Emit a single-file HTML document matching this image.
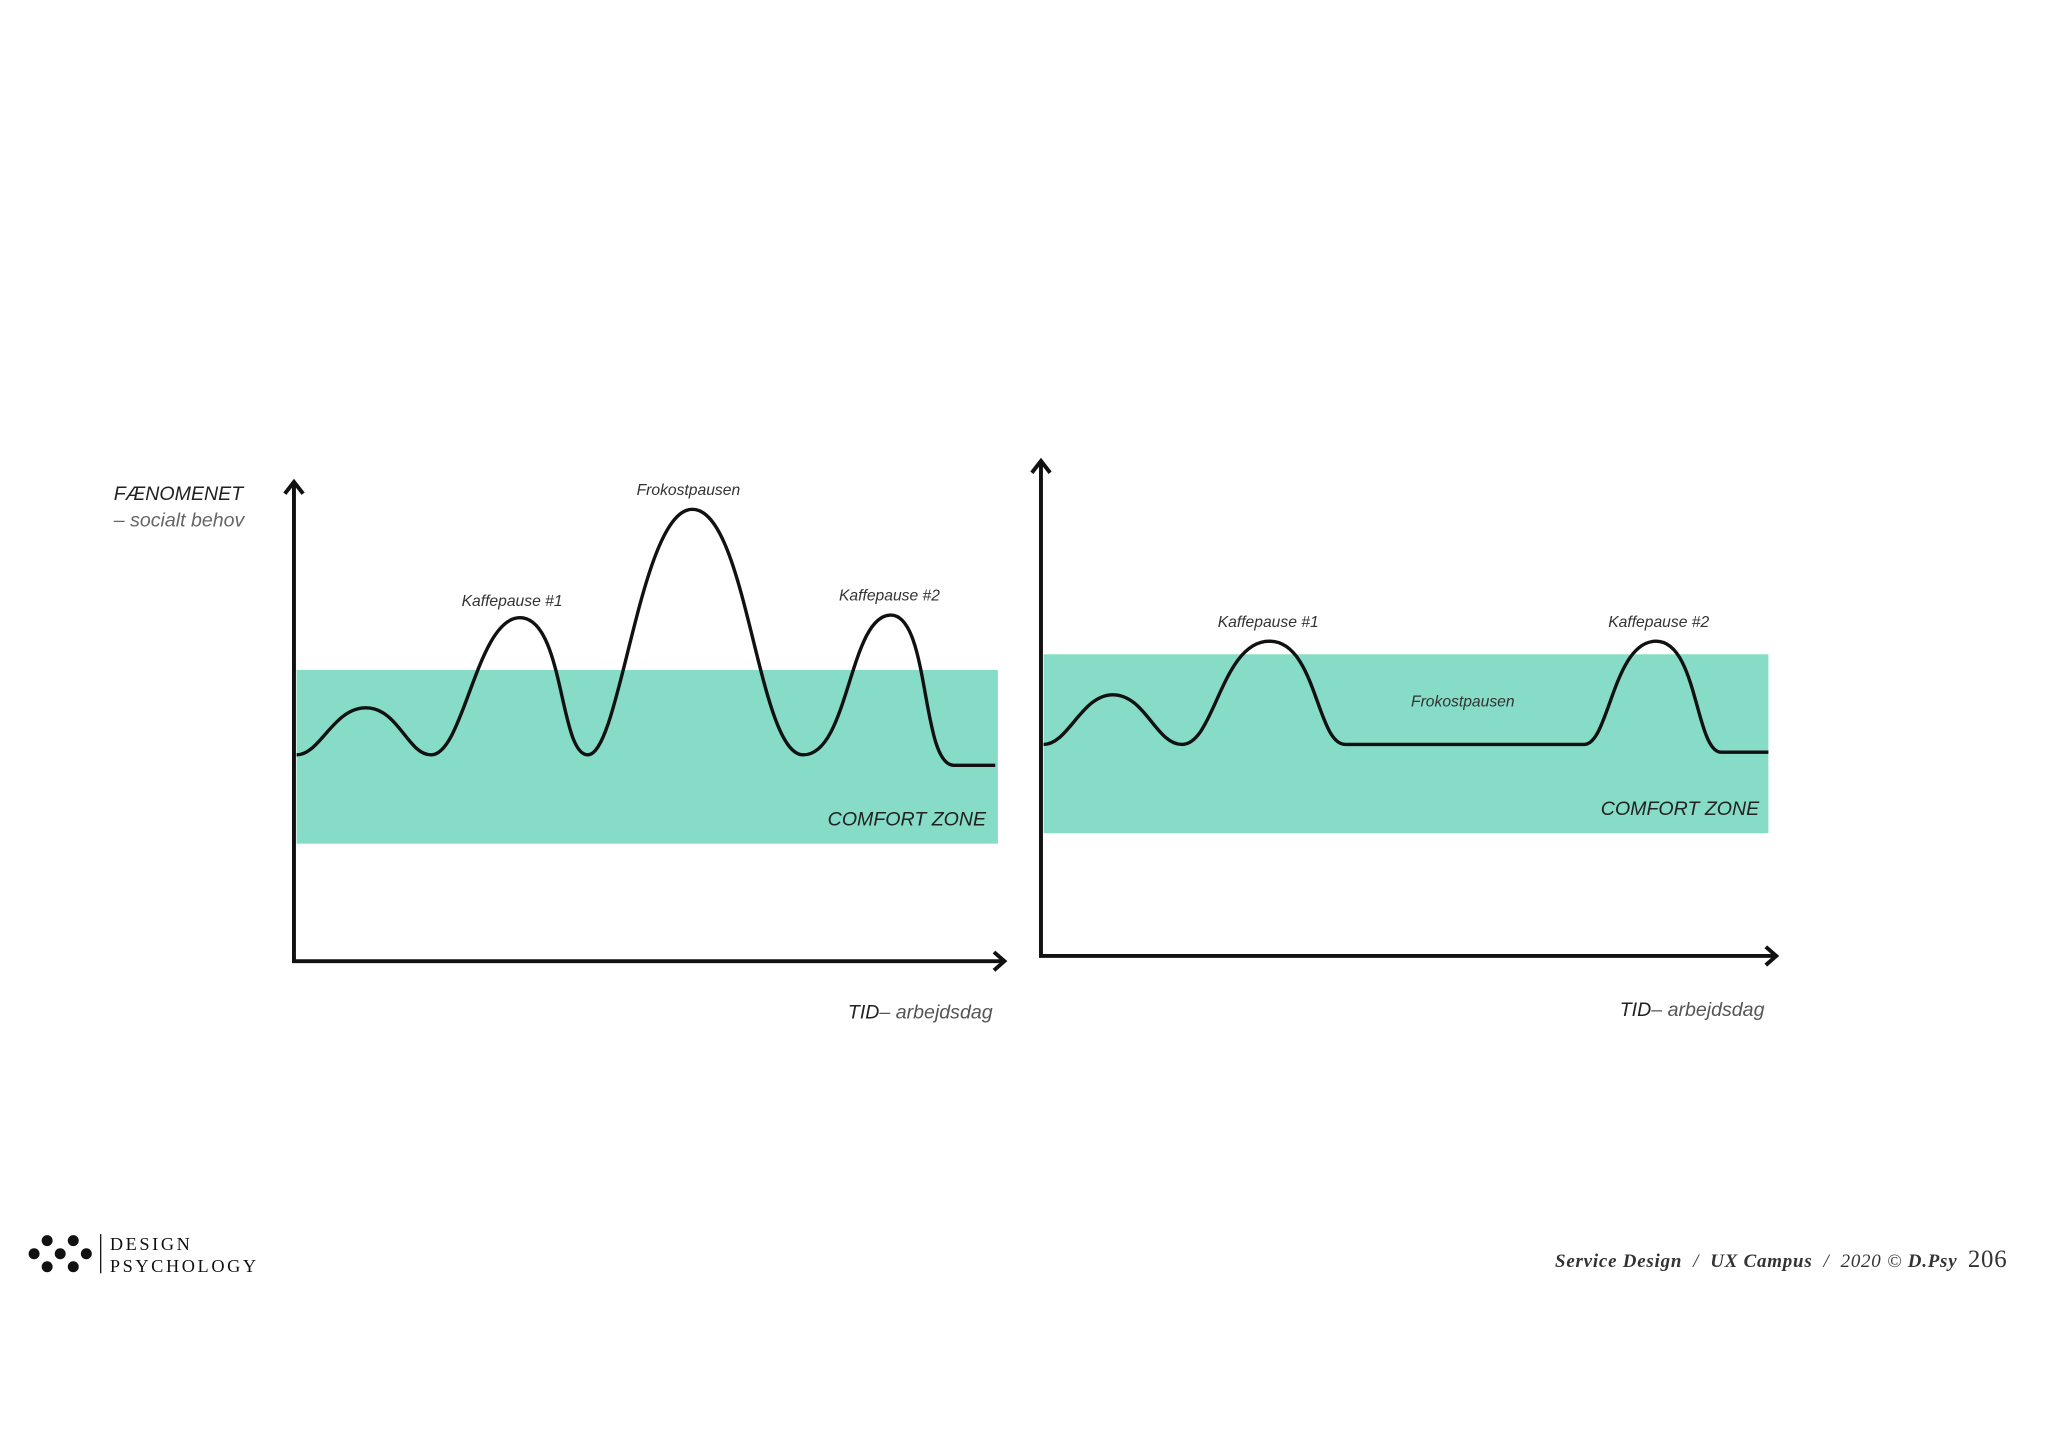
<!DOCTYPE html>
<html><head><meta charset="utf-8"><style>html,body{margin:0;padding:0;background:#fff}svg{display:block}</style></head>
<body>
<svg width="2048" height="1447" viewBox="0 0 1568 1108" xmlns="http://www.w3.org/2000/svg" font-family="Liberation Sans, sans-serif">
<rect width="1568" height="1108" fill="#fff"/>
<!-- Left chart -->
<rect x="227" y="513" width="537" height="133" fill="#86dcc6"/>
<path d="M227 578 C245 578,255 542,280 542 C305 542,312 578,330 578 C355 578,365 473,398 473 C432 473,428 578,450 578 C475 578,490 390,530 390 C572 390,580 578,615 578 C650 578,650 471,682 471 C712 471,705 585,730 586 L762 586" fill="none" stroke="#111" stroke-width="2.6" stroke-linejoin="round"/>
<path d="M225 370 V736 H768" fill="none" stroke="#111" stroke-width="3"/>
<path d="M218 378 L225 369 L232 378" fill="none" stroke="#111" stroke-width="3"/>
<path d="M761 729 L769 736 L761 743" fill="none" stroke="#111" stroke-width="3"/>
<text x="87" y="383" font-size="15" font-style="italic" fill="#222">FÆNOMENET</text>
<text x="87" y="403" font-size="15" font-style="italic" fill="#666">– socialt behov</text>
<text x="527" y="379" font-size="12" font-style="italic" fill="#333" text-anchor="middle">Frokostpausen</text>
<text x="392" y="464" font-size="12" font-style="italic" fill="#333" text-anchor="middle">Kaffepause #1</text>
<text x="681" y="460" font-size="12" font-style="italic" fill="#333" text-anchor="middle">Kaffepause #2</text>
<text x="755" y="632" font-size="15" font-style="italic" fill="#222" text-anchor="end">COMFORT ZONE</text>
<text x="760" y="780" font-size="15" font-style="italic" fill="#555" text-anchor="end"><tspan fill="#222">TID</tspan>– arbejdsdag</text>
<!-- Right chart -->
<rect x="799" y="501" width="555" height="137" fill="#86dcc6"/>
<path d="M799 570 C818 570,828 532,852 532 C877 532,885 570,905 570 C930 570,935 491,972 491 C1008 491,1008 570,1030 570 L1213 570 C1232 570,1235 491,1268 491 C1300 491,1298 576,1318 576 L1354 576" fill="none" stroke="#111" stroke-width="2.6" stroke-linejoin="round"/>
<path d="M797 354 V732 H1360" fill="none" stroke="#111" stroke-width="3"/>
<path d="M790 362 L797 353 L804 362" fill="none" stroke="#111" stroke-width="3"/>
<path d="M1352 725 L1360 732 L1352 739" fill="none" stroke="#111" stroke-width="3"/>
<text x="971" y="480" font-size="12" font-style="italic" fill="#333" text-anchor="middle">Kaffepause #1</text>
<text x="1270" y="480" font-size="12" font-style="italic" fill="#333" text-anchor="middle">Kaffepause #2</text>
<text x="1120" y="541" font-size="12" font-style="italic" fill="#333" text-anchor="middle">Frokostpausen</text>
<text x="1347" y="624" font-size="15" font-style="italic" fill="#222" text-anchor="end">COMFORT ZONE</text>
<text x="1351" y="778" font-size="15" font-style="italic" fill="#555" text-anchor="end"><tspan fill="#222">TID</tspan>– arbejdsdag</text>
<!-- Footer -->
<g fill="#111">
<circle cx="36" cy="950" r="4.2"/><circle cx="56" cy="950" r="4.2"/>
<circle cx="26" cy="960" r="4.2"/><circle cx="46" cy="960" r="4.2"/><circle cx="66" cy="960" r="4.2"/>
<circle cx="36" cy="970" r="4.2"/><circle cx="56" cy="970" r="4.2"/>
</g>
<line x1="77" y1="945" x2="77" y2="975" stroke="#111" stroke-width="1"/>
<text x="84" y="957" font-family="Liberation Serif, serif" font-size="14" letter-spacing="2" fill="#111">DESIGN</text>
<text x="84" y="974" font-family="Liberation Serif, serif" font-size="14" letter-spacing="2" fill="#111">PSYCHOLOGY</text>
<text x="1537" y="970" font-family="Liberation Serif, serif" font-size="14.5" fill="#333" text-anchor="end" letter-spacing="0.6"><tspan font-style="italic" font-weight="bold">Service Design</tspan><tspan font-style="italic" xml:space="preserve">  /  </tspan><tspan font-style="italic" font-weight="bold">UX Campus</tspan><tspan font-style="italic" xml:space="preserve">  /  2020 © </tspan><tspan font-style="italic" font-weight="bold">D.Psy</tspan><tspan font-size="19" dx="8">206</tspan></text>
</svg>
</body></html>
